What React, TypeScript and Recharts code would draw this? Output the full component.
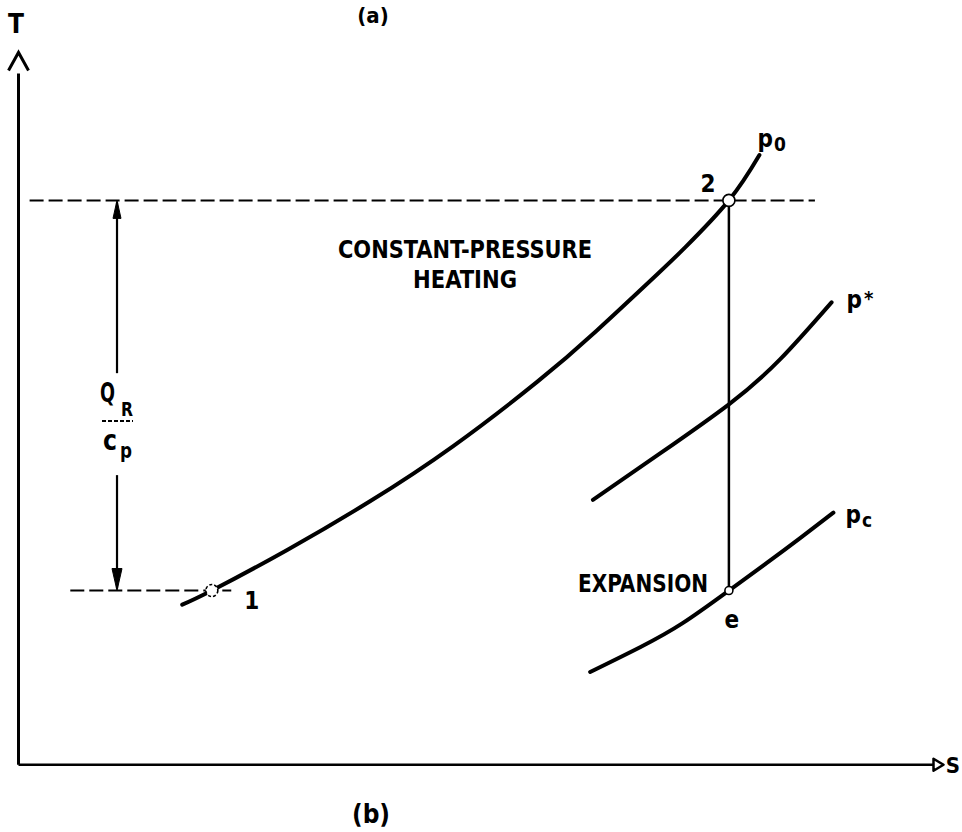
import React from 'react';
import { ComposedChart, Line, Scatter, XAxis, YAxis, ReferenceLine } from 'recharts';

const W = 962;
const H = 832;
const INK = '#000';
const FONT = "'DejaVu Sans Condensed', 'Liberation Sans Narrow', 'DejaVu Sans', sans-serif";

// entropy s and temperature T in arbitrary units, origin at the axes corner
const S_DOMAIN: [number, number] = [-0.2, 10.2];
const T_DOMAIN: [number, number] = [-0.95, 10.8];

const T1 = 2.46; // state 1 (and e)
const T2 = 7.97; // state 2, end of heating
const S_EXP = 7.68; // isentropic expansion 2 -> e

const p0Curve = [
  { s: 1.77, T: 2.26 },
  { s: 2.09, T: 2.46 },
  { s: 2.9, T: 3.03 },
  { s: 3.8, T: 3.72 },
  { s: 4.7, T: 4.5 },
  { s: 5.61, T: 5.41 },
  { s: 6.25, T: 6.13 },
  { s: 6.9, T: 6.92 },
  { s: 7.21, T: 7.31 },
  { s: 7.68, T: 7.97 },
  { s: 8.01, T: 8.61 },
];

const pStarCurve = [
  { s: 6.21, T: 3.74 },
  { s: 6.94, T: 4.4 },
  { s: 7.68, T: 5.09 },
  { s: 8.23, T: 5.72 },
  { s: 8.79, T: 6.53 },
];

const pcCurve = [
  { s: 6.18, T: 1.31 },
  { s: 6.72, T: 1.66 },
  { s: 7.18, T: 2.0 },
  { s: 7.68, T: 2.46 },
  { s: 8.09, T: 2.85 },
  { s: 8.45, T: 3.2 },
  { s: 8.81, T: 3.56 },
];

const statePoints = [
  { name: '1', s: 2.09, T: T1 },
  { name: '2', s: S_EXP, T: T2 },
  { name: 'e', s: S_EXP, T: T1 },
];

const isobarNames = [
  { main: 'p', sub: '0' },
  { main: 'p', sup: '*' },
  { main: 'p', sub: 'c' },
];

const heatingLevel = [{ s: 0.12, T: T2 }, { s: 8.61, T: T2 }];
const inletLevel = [{ s: 0.56, T: T1 }, { s: 2.3, T: T1 }];
const expansionLine = [{ s: S_EXP, T: T2 }, { s: S_EXP, T: T1 }];

const tAxis = [{ s: 0, T: 0 }, { s: 0, T: 10.06 }];
const sAxis = [{ s: 0, T: 0 }, { s: 10.0, T: 0 }];
const S_Q = 1.065;
const qUpper = [{ s: S_Q, T: 5.53 }, { s: S_Q, T: T2 }];
const qLower = [{ s: S_Q, T: 4.09 }, { s: S_Q, T: T1 }];

const curveEnds = [p0Curve, pStarCurve, pcCurve].map((c, i) => ({
  ...c[c.length - 1],
  label: isobarNames[i],
}));

// label placement (pixels, relative to the marker)
const stateStyle: Record<string, { r: number; dx: number; dy: number; dash?: string }> = {
  '1': { r: 6, dx: 40, dy: 18, dash: '3 2' },
  '2': { r: 6, dx: -21, dy: -8 },
  e: { r: 4, dx: 3, dy: 37 },
};
const endOffsets = [
  { dx: -2, dy: -8 },
  { dx: 15, dy: 6 },
  { dx: 12, dy: 10 },
];

const seg = (pts: { s: number; T: number }[]) => pts.map((p) => ({ x: p.s, y: p.T }));

type HeadKind = 'chevron' | 'open' | 'filled';

const arrowShape =
  (kind: HeadKind, len: number, half: number, gap: number, width: number) =>
  (props: any) => {
    const { x1, y1, x2, y2 } = props;
    const ang = Math.atan2(y2 - y1, x2 - x1);
    const ux = Math.cos(ang);
    const uy = Math.sin(ang);
    const bx = x2 - ux * len;
    const by = y2 - uy * len;
    const lx = bx - uy * half;
    const ly = by + ux * half;
    const rx = bx + uy * half;
    const ry = by - ux * half;
    const sx = x2 - ux * gap;
    const sy = y2 - uy * gap;
    const head =
      kind === 'chevron' ? (
        <polyline points={`${lx},${ly} ${x2},${y2} ${rx},${ry}`} fill="none" stroke={INK} strokeWidth={width} />
      ) : (
        <polygon
          points={`${lx},${ly} ${x2},${y2} ${rx},${ry}`}
          fill={kind === 'filled' ? INK : 'none'}
          stroke={INK}
          strokeWidth={kind === 'filled' ? 1 : width}
          strokeLinejoin="round"
        />
      );
    return (
      <g>
        <line x1={x1} y1={y1} x2={sx} y2={sy} stroke={INK} strokeWidth={width} />
        {head}
      </g>
    );
  };

const StateMark = (props: any) => {
  const { cx, cy, payload } = props;
  const st = stateStyle[payload.name];
  return (
    <g>
      <circle cx={cx} cy={cy} r={st.r} fill="#fff" stroke={INK} strokeWidth={1.6} strokeDasharray={st.dash} />
      <text
        x={cx + st.dx}
        y={cy + st.dy}
        textAnchor="middle"
        fontFamily={FONT}
        fontWeight="bold"
        fontSize={24}
        fill={INK}
      >
        {payload.name}
      </text>
    </g>
  );
};

const IsobarLabel = (props: any) => {
  const { cx, cy, payload, index } = props;
  const off = endOffsets[index] || { dx: 10, dy: 0 };
  const { main, sub, sup } = payload.label;
  return (
    <text x={cx + off.dx} y={cy + off.dy} fontFamily={FONT} fontWeight="bold" fontSize={24} fill={INK}>
      <tspan>{main}</tspan>
      {sub && (
        <tspan fontSize={19} dx={1} dy={4}>
          {sub}
        </tspan>
      )}
      {sup && (
        <tspan fontSize={20} dx={2} dy={-3}>
          {sup}
        </tspan>
      )}
    </text>
  );
};

const textProps = { fontFamily: FONT, fontWeight: 'bold' as const, fill: INK };

const lineCommon = {
  dataKey: 'T',
  stroke: INK,
  dot: false,
  activeDot: false,
  isAnimationActive: false,
} as const;

export default function App() {
  return (
    <div style={{ position: 'absolute', left: 0, top: 0, width: W, height: H, background: '#fff' }}>
      <ComposedChart width={W} height={H} margin={{ top: 0, right: 0, bottom: 0, left: 0 }}>
        <XAxis type="number" dataKey="s" domain={S_DOMAIN} allowDataOverflow hide />
        <YAxis type="number" dataKey="T" domain={T_DOMAIN} allowDataOverflow hide />

        {/* axes */}
        <ReferenceLine segment={seg(tAxis)} shape={arrowShape('chevron', 18, 10, 21, 3)} />
        <ReferenceLine segment={seg(sAxis)} shape={arrowShape('open', 10, 6, 10, 2.5)} />

        {/* heat added, Q_R / c_p */}
        <ReferenceLine segment={seg(qUpper)} shape={arrowShape('filled', 18, 4, 2, 2.2)} />
        <ReferenceLine segment={seg(qLower)} shape={arrowShape('filled', 22, 5, 2, 2.2)} />

        <Line {...lineCommon} data={heatingLevel} type="linear" strokeWidth={2} strokeDasharray="14 5" />
        <Line {...lineCommon} data={inletLevel} type="linear" strokeWidth={2} strokeDasharray="14 5" />

        <Line {...lineCommon} data={p0Curve} type="natural" strokeWidth={4} strokeLinecap="round" />
        <Line {...lineCommon} data={pStarCurve} type="natural" strokeWidth={4} strokeLinecap="round" />
        <Line {...lineCommon} data={pcCurve} type="natural" strokeWidth={4} strokeLinecap="round" />

        <Line {...lineCommon} data={expansionLine} type="linear" strokeWidth={2.5} />

        <Scatter data={curveEnds} dataKey="T" shape={IsobarLabel} isAnimationActive={false} />
        <Scatter data={statePoints} dataKey="T" shape={StateMark} isAnimationActive={false} />
      </ComposedChart>

      <svg width={W} height={H} style={{ position: 'absolute', left: 0, top: 0, pointerEvents: 'none' }}>
        <text x={373} y={23} textAnchor="middle" fontSize={22} {...textProps}>(a)</text>
        <text x={371} y={823} textAnchor="middle" fontSize={26} {...textProps}>(b)</text>
        <text x={16} y={33} textAnchor="middle" fontSize={26} {...textProps}>T</text>
        <text x={960} y={773} textAnchor="end" fontSize={22} {...textProps}>S</text>

        <text x={338} y={258} fontSize={24} textLength={254} lengthAdjust="spacingAndGlyphs" {...textProps}>
          CONSTANT-PRESSURE
        </text>
        <text x={413} y={288} fontSize={24} textLength={104} lengthAdjust="spacingAndGlyphs" {...textProps}>
          HEATING
        </text>
        <text x={578} y={592} fontSize={25} textLength={130} lengthAdjust="spacingAndGlyphs" {...textProps}>
          EXPANSION
        </text>

        <text x={100} y={402} fontSize={26} textLength={15} lengthAdjust="spacingAndGlyphs" {...textProps}>Q</text>
        <text x={121} y={416} fontSize={19} textLength={12} lengthAdjust="spacingAndGlyphs" {...textProps}>R</text>
        <line x1={102} y1={421} x2={133} y2={421} stroke={INK} strokeWidth={2} strokeDasharray="4 2" />
        <text x={103} y={450} fontSize={28} textLength={14} lengthAdjust="spacingAndGlyphs" {...textProps}>c</text>
        <text x={120} y={458} fontSize={22} textLength={12} lengthAdjust="spacingAndGlyphs" {...textProps}>p</text>
      </svg>
    </div>
  );
}
